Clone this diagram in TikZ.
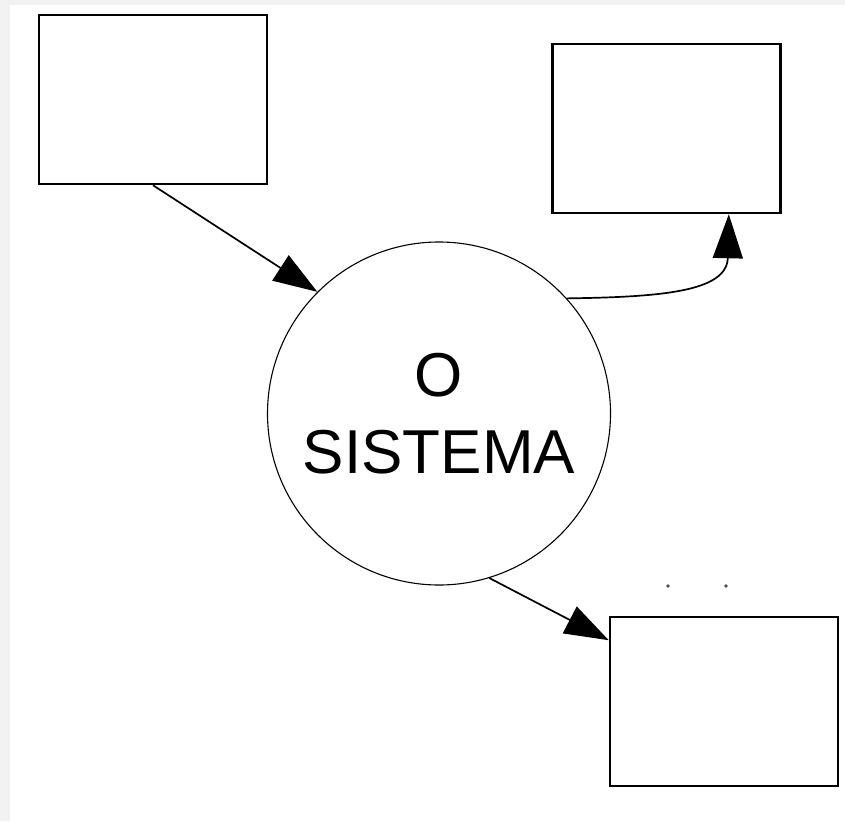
\documentclass[tikz,border=0pt]{standalone}
\usepackage{fontspec}
\setmainfont{Liberation Sans}
\usepackage{tikz}
\usetikzlibrary{
  arrows.meta
}
\tikzset{
  entity/.style={draw,line width=2.5pt,minimum width=228pt,minimum height=169pt,inner sep=0pt},
  process/.style={circle,draw,line width=1.1pt,minimum size=343pt,inner sep=0pt,align=center,
    font=\fontsize{62}{77}\selectfont},
  flow/.style={line width=1.7pt,-{Triangle[length=44pt,width=30pt]}},
}
\colorlet{page}{black!5}

\begin{document}
\begin{tikzpicture}[x=1pt,y=-1pt]
\fill[page] (0,0) rectangle (845,821);
\fill[white] (10,5) rectangle (845,821);
\useasboundingbox (0,0) rectangle (845,821);
\node[entity] (inA) at (153,99.5) {};
\node[entity] (outB) at (666.5,128.5) {};
\node[entity] (outC) at (724,701.5) {};
\node[process] (sys) at (439,413.5) {O\\SISTEMA};
\draw[flow] (inA.south) -- (sys.135);
\draw[flow] (sys.42) .. controls (660,297) and (727,292) .. (outB.-54.4);
\draw[flow] (sys.-73) -- (outC.152.3);
\fill[black!70] (668,586) circle[radius=1.8pt] (726,586) circle[radius=1.8pt];
\end{tikzpicture}
\end{document}
